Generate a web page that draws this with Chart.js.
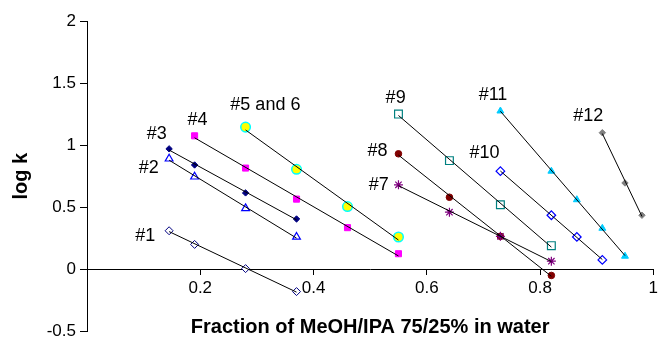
<!DOCTYPE html>
<html>
<head>
<meta charset="utf-8">
<script src="https://cdn.jsdelivr.net/npm/chart.js@4.4.1/dist/chart.umd.min.js"></script>
<style>
  html, body { margin: 0; padding: 0; background: #fff; }
  #wrap { width: 660px; height: 338px; }
</style>
</head>
<body>
<div id="wrap"><canvas id="graph-canvas" width="660" height="338"></canvas></div>
<script>
// data: fraction of MeOH/IPA vs log k
var names = ['#1', '#2', '#3', '#4', '#5 and 6', '#7', '#8', '#9', '#10', '#11', '#12'];

var x1 = [0.145, 0.19, 0.28, 0.37];
var y1 = [0.31, 0.20, 0.005, -0.18];
var x2 = [0.145, 0.19, 0.28, 0.37];
var y2 = [0.89, 0.745, 0.49, 0.26];
var x3 = [0.145, 0.19, 0.28, 0.37];
var y3 = [0.97, 0.84, 0.615, 0.405];
var x4 = [0.19, 0.28, 0.37, 0.46, 0.55];
var y4 = [1.075, 0.815, 0.565, 0.335, 0.125];
var x56 = [0.28, 0.37, 0.46, 0.55];
var y56 = [1.145, 0.805, 0.505, 0.26];
var x7 = [0.55, 0.64, 0.73, 0.82];
var y7 = [0.68, 0.46, 0.265, 0.065];
var x8 = [0.55, 0.64, 0.73, 0.82];
var y8 = [0.93, 0.58, 0.265, -0.05];
var x9 = [0.55, 0.64, 0.73, 0.82];
var y9 = [1.25, 0.875, 0.52, 0.19];
var x10 = [0.73, 0.82, 0.865, 0.91];
var y10 = [0.79, 0.435, 0.26, 0.075];
var x11 = [0.73, 0.82, 0.865, 0.91, 0.95];
var y11 = [1.275, 0.79, 0.56, 0.33, 0.105];
var x12 = [0.91, 0.95, 0.98];
var y12 = [1.10, 0.695, 0.435];

var xTicks = [0.2, 0.4, 0.6, 0.8, 1];
var yTicks = [-0.5, 0, 0.5, 1, 1.5, 2];

// where the series names sit (in axis units)
var nameX = [0.103, 0.109, 0.123, 0.195, 0.315, 0.515, 0.513, 0.545, 0.702, 0.717, 0.885];
var nameY = [0.265, 0.817, 1.092, 1.206, 1.320, 0.679, 0.955, 1.376, 0.938, 1.400, 1.238];

var xs = [x1, x2, x3, x4, x56, x7, x8, x9, x10, x11, x12];
var ys = [y1, y2, y3, y4, y56, y7, y8, y9, y10, y11, y12];

// marker looks per series
var markers = [
	{style: 'rectRot', r: 4, fill: '#ffffff', stroke: '#000080', bw: 1},
	{style: 'triangle', r: 4.5, fill: '#ffffff', stroke: '#0000ff', bw: 1.2},
	{style: 'rectRot', r: 3.2, fill: '#000080', stroke: '#000080', bw: 1},
	{style: 'rect', r: 4.3, fill: '#ff00ff', stroke: '#ff00ff', bw: 1},
	{style: 'circle', r: 4.8, fill: '#ffff00', stroke: '#00ffff', bw: 1.5},
	{style: 'star', r: 4.5, fill: '#800080', stroke: '#800080', bw: 1.2},
	{style: 'circle', r: 3.3, fill: '#800000', stroke: '#800000', bw: 1},
	{style: 'rect', r: 5.5, fill: '#ffffff', stroke: '#008080', bw: 1.2},
	{style: 'rectRot', r: 4.3, fill: '#ffffff', stroke: '#0000ff', bw: 1.2},
	{style: 'triangle', r: 4, fill: '#00ccff', stroke: '#00ccff', bw: 1},
	{style: 'rectRot', r: 3.2, fill: '#808080', stroke: '#808080', bw: 1}
];

function toPoints(a, b) {
	var pts = [];
	for (var i = 0; i < a.length; i++) {
		pts.push({x: a[i], y: b[i]});
	}
	return pts;
}

// linear trendline (least squares) from first to last x of the series
function trend(a, b) {
	var n = a.length, sx = 0, sy = 0, sxx = 0, sxy = 0;
	for (var i = 0; i < n; i++) {
		sx += a[i]; sy += b[i]; sxx += a[i] * a[i]; sxy += a[i] * b[i];
	}
	var m = (n * sxy - sx * sy) / (n * sxx - sx * sx);
	var c = (sy - m * sx) / n;
	return [{x: a[0], y: m * a[0] + c}, {x: a[n - 1], y: m * a[n - 1] + c}];
}

var datasets = [];
for (var i = 0; i < names.length; i++) {
	datasets.push({
		label: names[i] + ' trend',
		data: trend(xs[i], ys[i]),
		showLine: true,
		borderColor: '#000000',
		borderWidth: 1,
		pointRadius: 0,
		order: 0
	});
	datasets.push({
		label: names[i],
		data: toPoints(xs[i], ys[i]),
		showLine: false,
		pointStyle: markers[i].style,
		pointRadius: markers[i].r,
		pointBackgroundColor: markers[i].fill,
		pointBorderColor: markers[i].stroke,
		pointBorderWidth: markers[i].bw,
		order: 1
	});
}

var FONT = "'Liberation Sans', Arial, sans-serif";

// series names and x axis title
var textPlugin = {
	id: 'texts',
	afterDraw: function(chart) {
		var ctx = chart.ctx;
		var sx = chart.scales.x, sy = chart.scales.y;
		ctx.save();
		ctx.fillStyle = '#000';
		ctx.textAlign = 'center';
		ctx.textBaseline = 'middle';
		ctx.font = '18px ' + FONT;
		for (var i = 0; i < names.length; i++) {
			ctx.fillText(names[i], sx.getPixelForValue(nameX[i]), sy.getPixelForValue(nameY[i]));
		}
		ctx.font = 'bold 20px ' + FONT;
		var area = chart.chartArea;
		ctx.fillText('Fraction of MeOH/IPA 75/25% in water', (area.left + area.right) / 2, sy.getPixelForValue(-0.47));
		ctx.restore();
	}
};

var ctx = document.getElementById('graph-canvas');

var graph = new Chart(ctx, {
	type: 'scatter',
	data: {datasets: datasets},
	plugins: [textPlugin],
	options: {
		responsive: false,
		animation: false,
		events: [],
		layout: {padding: {top: 21, right: 0, bottom: 6, left: 0}},
		plugins: {legend: {display: false}, tooltip: {enabled: false}},
		scales: {
			x: {
				type: 'linear', min: 0, max: 1, display: false
			},
			xAxis: {
				type: 'linear', axis: 'x', min: 0, max: 1,
				position: {y: 0},
				afterFit: function(scale) { scale.height = 0; scale.paddingRight = 0; },
				afterBuildTicks: function(scale) {
					scale.ticks = xTicks.map(function(v) { return {value: v}; });
				},
				ticks: {
					color: '#000', padding: 4,
					font: {family: FONT, size: 17},
					callback: function(v) { return String(v); }
				},
				grid: {drawOnChartArea: false, drawTicks: true, tickLength: 5, color: '#000'},
				border: {display: true, color: '#000', width: 1}
			},
			y: {
				type: 'linear', min: -0.5, max: 2,
				position: 'left',
				afterFit: function(scale) {
					scale.width = 87;
					scale.paddingTop = 0;
					scale.paddingBottom = 0;
				},
				afterBuildTicks: function(scale) {
					scale.ticks = yTicks.map(function(v) { return {value: v}; });
				},
				ticks: {
					color: '#000', padding: 4,
					font: {family: FONT, size: 17},
					callback: function(v) { return String(v); }
				},
				grid: {drawOnChartArea: false, drawTicks: true, tickLength: 7, color: '#000'},
				border: {display: true, color: '#000', width: 1},
				title: {
					display: true, text: 'log k', color: '#000',
					font: {family: FONT, size: 20, weight: 'bold'},
					padding: {top: 9, bottom: 0}
				}
			}
		}
	}
});
</script>
</body>
</html>
